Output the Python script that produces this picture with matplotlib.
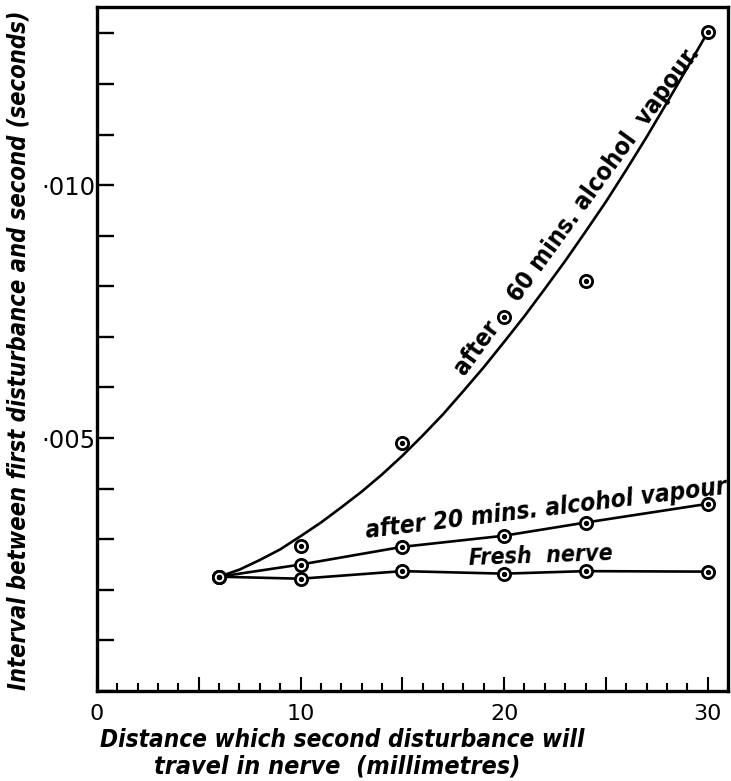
import matplotlib
matplotlib.use('Agg')
import matplotlib.pyplot as plt
import matplotlib.font_manager as fm
from matplotlib.ticker import MultipleLocator, FixedLocator, FuncFormatter

# distance (mm)
dist = [6, 10, 15, 20, 24, 30]
# interval (s)
fresh = [0.00226, 0.00222, 0.00237, 0.00232, 0.00237, 0.00236]
min20 = [0.00226, 0.00250, 0.00285, 0.00307, 0.00333, 0.00370]
min60 = [0.00226, 0.00287, 0.00490, 0.00739, 0.00810, 0.01302]

# hand drawn curve through the 60 min points
curve_x = list(range(6, 31))
curve_y = [0.00226, 0.00240, 0.00259, 0.00280, 0.00306, 0.00333, 0.00363,
           0.00394, 0.00428, 0.00465, 0.00505, 0.00547, 0.00593, 0.00640,
           0.00690, 0.00741, 0.00795, 0.00850, 0.00908, 0.00967, 0.01030,
           0.01095, 0.01163, 0.01232, 0.01302]

# pick a narrow bold font if one is installed
def find_font(keys, style_keys):
    for f in fm.fontManager.ttflist:
        fn = f.fname.replace('-', '').replace('_', '')
        if any(k in fn for k in keys) and any(s in fn for s in style_keys):
            return f.fname
    return None

bi_file = find_font(['SansNarrow', 'SansCondensed'], ['BoldItalic', 'BoldOblique'])
b_file = find_font(['SansNarrow', 'SansCondensed'], ['NarrowBold.', 'CondensedBold.'])
if bi_file:
    fp_bi = fm.FontProperties(fname=bi_file)
else:
    fp_bi = fm.FontProperties(family='Liberation Sans', weight='bold', style='italic')
if b_file:
    fp_b = fm.FontProperties(fname=b_file)
else:
    fp_b = fm.FontProperties(family='Liberation Sans', weight='bold')

fig = plt.figure(figsize=(7.31, 7.81), dpi=100)
ax = fig.add_axes([0.1327, 0.1152, 0.8632, 0.8758])

lw = 1.9
ax.plot(dist, fresh, 'k-', lw=lw)
ax.plot(dist, min20, 'k-', lw=lw)
ax.plot(curve_x, curve_y, 'k-', lw=lw)

for ys in (fresh, min20, min60):
    ax.plot(dist, ys, 'o', ms=8.8, mfc='white', mec='black', mew=2.0, zorder=3)
    ax.plot(dist, ys, 'o', ms=2.8, mfc='black', mec='black', zorder=4)

ax.set_xlim(0, 31)
ax.set_ylim(0, 0.01352)

ax.xaxis.set_major_locator(MultipleLocator(5))
ax.xaxis.set_minor_locator(MultipleLocator(1))
ax.xaxis.set_major_formatter(FuncFormatter(lambda v, p: '%d' % v if v % 10 == 0 else ''))
ax.yaxis.set_major_locator(FixedLocator([0.005, 0.010]))
ax.yaxis.set_minor_locator(MultipleLocator(0.001))
ax.set_yticklabels(['·005', '·010'])

ax.tick_params(axis='x', which='major', direction='in', length=10, width=1.5,
               labelsize=16, pad=9)
ax.tick_params(axis='x', which='minor', direction='in', length=6, width=1.5)
ax.tick_params(axis='y', which='both', direction='in', length=12, width=1.7,
               labelsize=17.5, pad=1)
for lab in ax.get_xticklabels() + ax.get_yticklabels():
    lab.set_family('DejaVu Sans')
for s in ax.spines.values():
    s.set_linewidth(2.4)

texts = []
t60 = ax.text(18.1, 0.00621, 'after    60 mins. alcohol  vapour.',
              ha='left', va='baseline', rotation_mode='anchor', fontproperties=fp_b)
texts.append((t60, 400, 54))
t20 = ax.text(13.21, 0.00302, 'after 20 mins. alcohol vapour',
              ha='left', va='baseline', rotation_mode='anchor', fontproperties=fp_bi)
texts.append((t20, 364, 7))
tfr = ax.text(18.26, 0.00249, 'Fresh  nerve',
              ha='left', va='baseline', rotation_mode='anchor', fontproperties=fp_bi)
texts.append((tfr, 144, 2))

tx1 = fig.text(0.1368, 0.0435, 'Distance which second disturbance will',
               ha='left', va='baseline', fontproperties=fp_bi)
texts.append((tx1, 485, 0))
tx2 = fig.text(0.2107, 0.010, 'travel in nerve  (millimetres)',
               ha='left', va='baseline', fontproperties=fp_bi)
texts.append((tx2, 366, 0))
ty = fig.text(0.0342, 0.1165, 'Interval between first disturbance and second (seconds)',
              ha='left', va='baseline', rotation_mode='anchor', fontproperties=fp_bi)
texts.append((ty, 682, 90))

# scale each label so that its length matches the original
for t, target, rot in texts:
    t.set_fontsize(18)
fig.canvas.draw()
r = fig.canvas.get_renderer()
for t, target, rot in texts:
    w = t.get_window_extent(r).width
    t.set_fontsize(18 * target / w)
    t.set_rotation(rot)

fig.savefig('out.png', dpi=100)
